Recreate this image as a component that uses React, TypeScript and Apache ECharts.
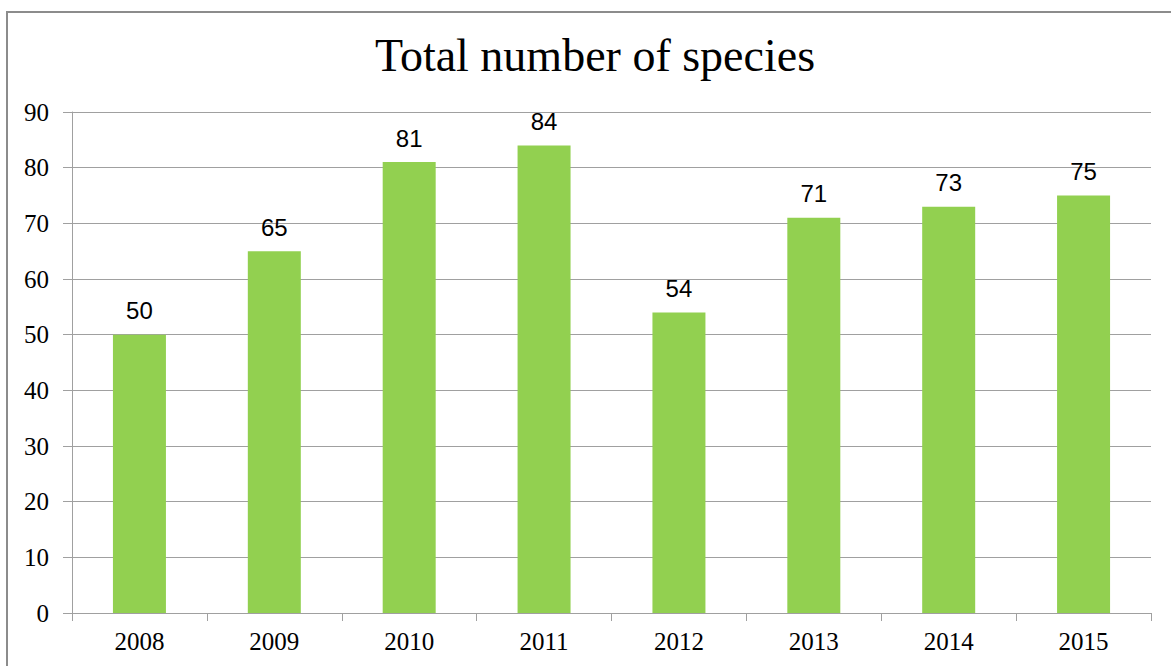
import React, { useEffect, useRef } from "react";
import * as echarts from "echarts";

const years = ["2008", "2009", "2010", "2011", "2012", "2013", "2014", "2015"];
const species = [50, 65, 81, 84, 54, 71, 73, 75];
const titleText = "Total number of species";

export default function App() {
  const ref = useRef<HTMLDivElement>(null);
  useEffect(() => {
    const chart = echarts.init(ref.current!, null, { renderer: "svg" });
    chart.setOption({
      animation: false,
      backgroundColor: "#ffffff",
      title: {
        text: titleText,
        left: 370,
        top: 27,
        textStyle: {
          fontFamily: "Liberation Serif",
          fontSize: 46,
          fontWeight: "normal",
          color: "#000",
        },
      },
      graphic: [
        {
          type: "rect",
          shape: { x: 7, y: 12, width: 1200, height: 700 },
          style: { fill: "none", stroke: "#8c8c8c", lineWidth: 2 },
          silent: true,
        },
      ],
      grid: { left: 72, right: 20, top: 112, bottom: 53 },
      xAxis: {
        type: "category",
        data: years,
        axisLine: { show: true, lineStyle: { color: "#a0a0a0", width: 1 } },
        axisTick: { show: true, length: 8, lineStyle: { color: "#a0a0a0" } },
        axisLabel: {
          fontFamily: "Liberation Serif",
          fontSize: 25,
          color: "#000",
          margin: 16,
        },
      },
      yAxis: {
        type: "value",
        min: 0,
        max: 90,
        interval: 10,
        axisLine: { show: true, lineStyle: { color: "#a0a0a0", width: 1 } },
        axisTick: { show: true, length: 9, lineStyle: { color: "#a0a0a0" } },
        splitLine: { show: true, lineStyle: { color: "#a0a0a0", width: 1 } },
        axisLabel: {
          fontFamily: "Liberation Serif",
          fontSize: 25,
          color: "#000",
          margin: 23,
        },
      },
      series: [
        {
          type: "bar",
          data: species,
          barWidth: 53,
          itemStyle: { color: "#92D050" },
          label: {
            show: true,
            position: "top",
            distance: 12,
            fontFamily: "Liberation Sans",
            fontSize: 24,
            color: "#000",
          },
        },
      ],
    });
    return () => chart.dispose();
  }, []);
  return (
    <div
      ref={ref}
      style={{ position: "absolute", left: 0, top: 0, width: 1171, height: 666 }}
    />
  );
}
